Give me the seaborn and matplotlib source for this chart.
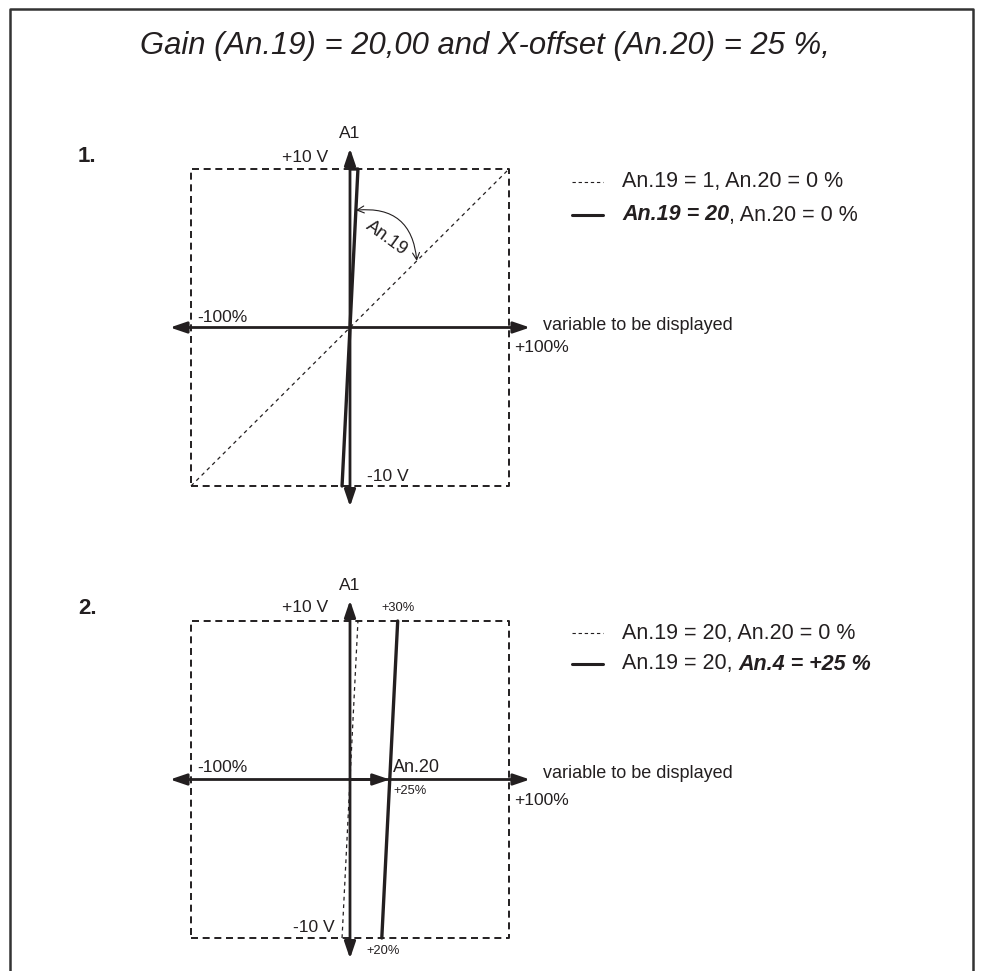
import matplotlib
matplotlib.use('Agg')
import matplotlib.pyplot as plt
from matplotlib.lines import Line2D
import seaborn as sns

# --- values ---
# panel 1: gain An.19 = 1 vs An.19 = 20 (x in %, y in V)
p1_ref_x = [-100, 100]
p1_ref_y = [-10, 10]
p1_gain_x = [-5, 5, 0]
p1_gain_y = [-10, 10, 10]

# panel 2: offset An.20 = 0 % vs +25 % with gain 20
p2_ref_x = [-5, 5]
p2_ref_y = [-10, 10]
p2_off_x = [20, 30]
p2_off_y = [-10, 10]
offset_pct = 25

box_x = [-100, 100, 100, -100, -100]
box_y = [-10, -10, 10, 10, -10]

legend1 = [("An.19 = 1, An.20 = 0 %", None), ("An.19 = 20", ", An.20 = 0 %")]
legend2 = [("An.19 = 20, An.20 = 0 %", None), ("An.19 = 20, ", "An.4 = +25 %")]

title = "Gain (An.19) = 20,00 and X-offset (An.20) = 25 %,"

INK = '#231f20'
W, H = 981, 971
LEG = 15.5

sns.set_theme(style='white')
plt.rcParams['font.family'] = ['Liberation Sans', 'DejaVu Sans']

fig = plt.figure(figsize=(W / 100, H / 100), dpi=100)
fig.patch.set_facecolor('white')


def px(x, y):
    return x / W, 1 - y / H


def label(x, y, s, size=12.6, ha='left', va='center', **kw):
    return fig.text(*px(x, y), s, fontsize=size, ha=ha, va=va, color=INK, **kw)


# frame round the figure (open at the bottom)
fig.add_artist(Line2D([10 / W, 10 / W, 973 / W, 973 / W], [0, 1 - 9 / H, 1 - 9 / H, 0],
                      color='#333333', lw=1.8, transform=fig.transFigure))

label(485, 46, title, size=22.3, ha='center', style='italic')

# scales: 1.59 px per %, 15.85 px per V
SX, SY = 1.59, 15.85
XL, YL = 120, 12
ARROW = '<|-|>,head_length=0.5,head_width=0.17'


def panel(cx, cy):
    w, h = 2 * XL * SX, 2 * YL * SY
    ax = fig.add_axes([(cx - w / 2) / W, 1 - (cy + h / 2) / H, w / W, h / H])
    ax.set_xlim(-XL, XL)
    ax.set_ylim(-YL, YL)
    ax.axis('off')
    ax.plot(box_x, box_y, color=INK, lw=1.4, ls=(0, (3.6, 2.4)))
    head = dict(color=INK, lw=2.0, shrinkA=0, shrinkB=0, mutation_scale=20)
    ax.annotate('', xy=(113.2, 0), xytext=(-113.2, 0), arrowprops=dict(arrowstyle=ARROW, **head))
    ax.annotate('', xy=(0, 11.3), xytext=(0, -11.3), arrowprops=dict(arrowstyle=ARROW, **head))
    return ax


def legend(ax, rows, ys, bold_first):
    for i, ((a, b), y) in enumerate(zip(rows, ys)):
        dotted = i == 0
        fig.add_artist(Line2D([572 / W, 603 / W], [1 - y / H] * 2, color=INK,
                              lw=0.8 if dotted else 2.2,
                              ls=(0, (3, 2.5)) if dotted else '-',
                              transform=fig.transFigure))
        if b is None:
            label(622, y, a, size=LEG)
            continue
        if bold_first:
            t = label(622, y, a, size=LEG, weight='bold', style='italic')
            ax.annotate(b, xy=(1, 0), xycoords=t, va='bottom', ha='left',
                        fontsize=LEG, color=INK, annotation_clip=False)
        else:
            t = label(622, y, a, size=LEG)
            ax.annotate(b, xy=(1, 0), xycoords=t, va='bottom', ha='left',
                        fontsize=LEG, color=INK, weight='bold', style='italic',
                        annotation_clip=False)


# ---------- panel 1 ----------
ax1 = panel(350, 327.5)
sns.lineplot(x=p1_ref_x, y=p1_ref_y, ax=ax1, color=INK, lw=0.9,
             linestyle=(0, (3, 3)), estimator=None, sort=False)
sns.lineplot(x=p1_gain_x, y=p1_gain_y, ax=ax1, color=INK, lw=2.4,
             estimator=None, sort=False)
ax1.set_xlim(-XL, XL)
ax1.set_ylim(-YL, YL)
ax1.axis('off')
ax1.annotate('', xy=(42, 4.2), xytext=(3.7, 7.4),
             arrowprops=dict(arrowstyle='<->,head_length=0.5,head_width=0.25',
                             connectionstyle='arc3,rad=-0.5', color=INK, lw=0.8,
                             shrinkA=0, shrinkB=0, mutation_scale=10))
label(386.7, 238, "An.19", size=13, rotation=-36, ha='center', rotation_mode='anchor')

label(78, 156, "1.", size=16, weight='bold')
label(350, 134, "A1", ha='center')
label(328, 157, "+10 V", ha='right')
label(197, 317, "-100%")
label(514, 348, "+100%")
label(543, 325, "variable to be displayed", size=13)
label(367, 476.5, "-10 V")
legend(ax1, legend1, [182, 215], bold_first=True)

# ---------- panel 2 ----------
ax2 = panel(350, 779.5)
sns.lineplot(x=p2_ref_x, y=p2_ref_y, ax=ax2, color=INK, lw=0.9,
             linestyle=(0, (3, 3)), estimator=None, sort=False)
sns.lineplot(x=p2_off_x, y=p2_off_y, ax=ax2, color=INK, lw=2.4,
             estimator=None, sort=False)
ax2.set_xlim(-XL, XL)
ax2.set_ylim(-YL, YL)
ax2.axis('off')
ax2.annotate('', xy=(offset_pct, 0), xytext=(0, 0),
             arrowprops=dict(arrowstyle='-|>,head_length=0.5,head_width=0.17',
                             color=INK, lw=2.0, shrinkA=0, shrinkB=0, mutation_scale=20))

label(78, 609, "2.", size=16, weight='bold')
label(350, 585, "A1", ha='center')
label(328, 608, "+10 V", ha='right')
label(398, 608, "+30%", size=9.3, ha='center')
label(197, 768, "-100%")
label(393, 767, "An.20", size=13)
label(393, 791, "+25%", size=9.3)
label(514, 800, "+100%")
label(543, 773, "variable to be displayed", size=13)
label(335, 927, "-10 V", ha='right')
label(366, 951, "+20%", size=9.3)
legend(ax2, legend2, [633, 664], bold_first=False)

fig.savefig('out.png', dpi=100, facecolor='white')
